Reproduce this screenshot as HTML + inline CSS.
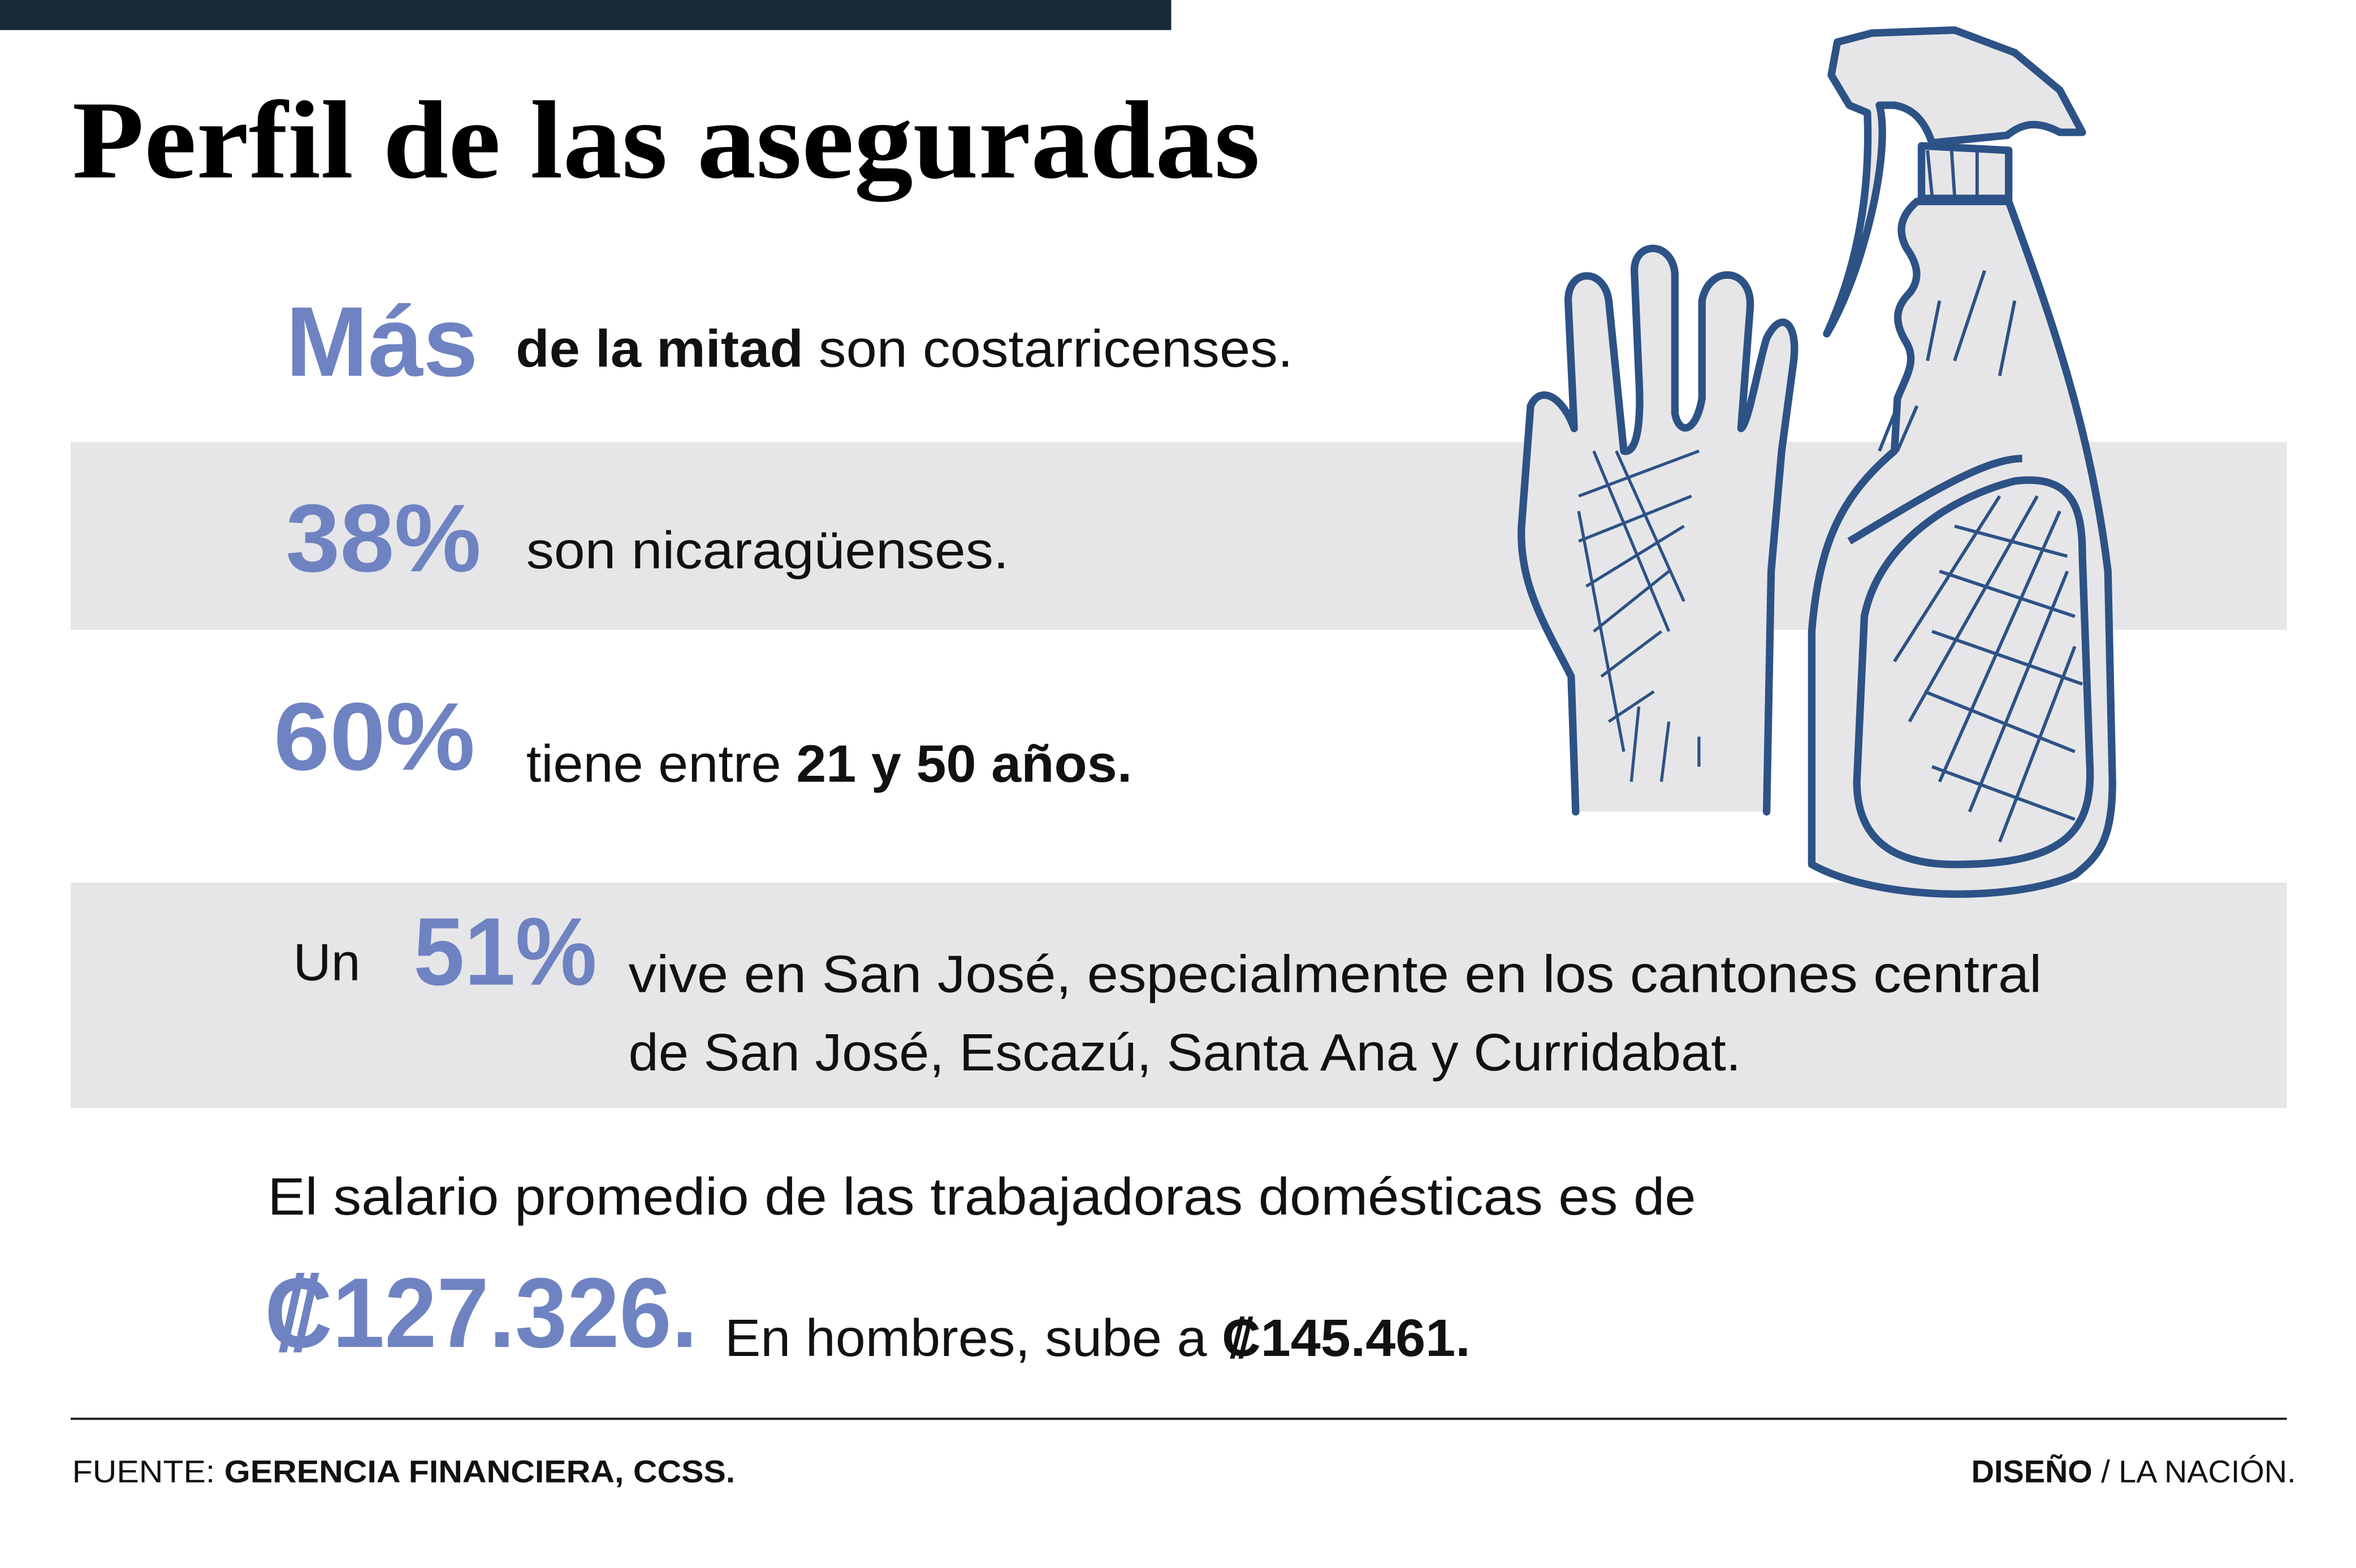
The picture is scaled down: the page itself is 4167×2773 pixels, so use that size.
<!DOCTYPE html>
<html><head><meta charset="utf-8"><style>
html,body{margin:0;padding:0;background:#fff;}
svg{display:block;}
.b{fill:#6f83c2;font-weight:bold;font-family:"Liberation Sans",sans-serif;}
.t{fill:#111;font-family:"Liberation Sans",sans-serif;}
</style></head><body>
<svg width="4167" height="2773" viewBox="0 0 1567 1043" preserveAspectRatio="none" xmlns="http://www.w3.org/2000/svg">
<rect width="1567" height="1043" fill="#fff"/>
<rect x="0" y="0" width="779" height="20" fill="#1b2a3a"/>
<text x="48" y="118" font-family="Liberation Serif,serif" font-weight="bold" font-size="74" fill="#000" textLength="790" lengthAdjust="spacingAndGlyphs">Perfil de las aseguradas</text>
<rect x="47" y="294" width="1474" height="125" fill="#e6e6e8"/>
<rect x="47" y="587" width="1474" height="150" fill="#e6e6e8"/>

<g fill="#e6e6e8" stroke="#2d5286" stroke-width="5" stroke-linejoin="round" stroke-linecap="round">
<path d="M1048,540 L1045,450 C1030,420 1010,390 1012,350 L1018,270 C1025,255 1040,265 1047,285 L1043,200 C1043,178 1067,178 1070,200 L1080,300 C1088,302 1092,285 1090,250 L1087,180 C1087,160 1112,160 1114,182 L1114,275 C1117,290 1128,288 1132,265 L1132,200 C1137,175 1166,178 1164,205 L1158,285 C1163,282 1170,240 1175,225 C1185,205 1196,215 1193,240 L1185,300 L1178,380 L1175,540"/>
</g>
<g stroke="#2d5286" stroke-width="2" fill="none">
<path d="M1050,330 L1130,300 M1050,360 L1125,330 M1055,390 L1120,350 M1060,420 L1110,380 M1065,450 L1105,420 M1070,480 L1100,460"/>
<path d="M1060,300 L1110,420 M1075,300 L1120,400 M1050,340 L1080,500 M1090,470 L1085,520 M1110,480 L1105,520 M1130,490 L1130,510"/>
</g>

<g fill="#e6e6e8" stroke="#2d5286" stroke-width="5" stroke-linejoin="round">
<path d="M1222,28 L1245,22 L1300,20 L1340,35 L1370,60 L1385,88 L1370,88 C1355,80 1345,82 1335,90 L1285,95 C1280,80 1272,72 1260,70 L1250,70 C1258,100 1240,180 1215,222 C1225,200 1245,150 1242,75 L1230,70 L1218,50 Z"/>
<path d="M1278,97 L1336,100 L1336,132 L1278,132 Z"/>
<path d="M1275,134 L1336,134 C1360,200 1390,280 1402,380 L1405,520 C1405,560 1395,570 1380,582 C1340,600 1250,600 1205,575 L1205,420 C1210,360 1225,330 1260,300 L1262,265 C1268,250 1275,240 1268,228 C1260,215 1260,205 1270,195 C1278,185 1275,175 1268,165 C1260,150 1268,140 1275,134 Z"/>
<path fill="none" d="M1230,360 C1280,330 1320,305 1345,305"/>
<path d="M1240,410 C1250,360 1300,330 1340,320 C1380,315 1385,340 1385,370 L1390,510 C1392,555 1370,575 1300,575 C1250,575 1235,550 1235,520 Z"/>
</g>
<g stroke="#2d5286" stroke-width="2.2" fill="none">
<path d="M1290,520 L1370,340 M1310,540 L1375,380 M1330,560 L1380,430 M1270,480 L1355,330 M1260,440 L1330,330"/>
<path d="M1280,460 L1380,500 M1285,420 L1385,455 M1290,380 L1380,410 M1300,350 L1375,370 M1285,510 L1380,545"/>
<path d="M1250,300 L1262,270 M1262,300 L1275,270 M1285,130 L1282,100 M1300,130 L1298,100 M1315,130 L1315,100 M1290,200 L1282,240 M1320,180 L1300,240 M1340,200 L1330,250"/>
</g>

<text x="190" y="250" class="b" font-size="66" textLength="128" lengthAdjust="spacingAndGlyphs">Más</text>
<text x="343" y="244" class="t" font-size="35" textLength="517" lengthAdjust="spacingAndGlyphs"><tspan font-weight="bold">de la mitad</tspan> son costarricenses.</text>

<text x="190" y="380" class="b" font-size="64" textLength="130" lengthAdjust="spacingAndGlyphs">38%</text>
<text x="350" y="378" class="t" font-size="35" textLength="321" lengthAdjust="spacingAndGlyphs">son nicaragüenses.</text>

<text x="182" y="512" class="b" font-size="64" textLength="134" lengthAdjust="spacingAndGlyphs">60%</text>
<text x="350" y="520" class="t" font-size="35" textLength="403" lengthAdjust="spacingAndGlyphs">tiene entre <tspan font-weight="bold">21 y 50 años.</tspan></text>

<text x="195" y="652" class="t" font-size="35">Un</text>
<text x="275" y="655" class="b" font-size="64" textLength="122" lengthAdjust="spacingAndGlyphs">51%</text>
<text x="418" y="660" class="t" font-size="35" textLength="940" lengthAdjust="spacingAndGlyphs">vive en San José, especialmente en los cantones central</text>
<text x="418" y="712" class="t" font-size="35" textLength="740" lengthAdjust="spacingAndGlyphs">de San José, Escazú, Santa Ana y Curridabat.</text>

<text x="178" y="808" class="t" font-size="35" textLength="950" lengthAdjust="spacingAndGlyphs">El salario promedio de las trabajadoras domésticas es de</text>
<text x="176" y="896" class="b" font-size="66" textLength="288" lengthAdjust="spacingAndGlyphs">₡127.326.</text>
<text x="482" y="902" class="t" font-size="35" textLength="496" lengthAdjust="spacingAndGlyphs">En hombres, sube a <tspan font-weight="bold">₡145.461.</tspan></text>

<rect x="47" y="943" width="1474" height="1.5" fill="#222"/>
<text x="48" y="986" class="t" font-size="21" textLength="441" lengthAdjust="spacingAndGlyphs">FUENTE: <tspan font-weight="bold">GERENCIA FINANCIERA, CCSS.</tspan></text>
<text x="1527" y="986" class="t" font-size="21" text-anchor="end"><tspan font-weight="bold">DISEÑO</tspan> / LA NACIÓN.</text>
</svg>
</body></html>
